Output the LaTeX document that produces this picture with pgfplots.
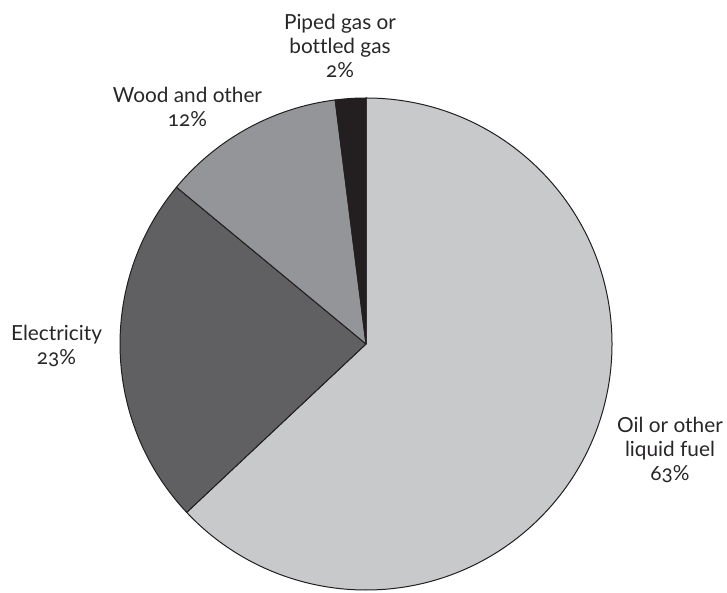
\documentclass[border=0pt]{standalone}
\usepackage{pgfplots}
\pgfplotsset{compat=1.18}
\usepackage{pgfplotstable}
\usepackage{fontspec}
\setmainfont{Lato}[Numbers=OldStyle, Ligatures=NoCommon]

\definecolor{oilgrey}{RGB}{200,201,203}
\definecolor{elecgrey}{RGB}{96,96,98}
\definecolor{woodgrey}{RGB}{147,149,152}
\definecolor{gasblack}{RGB}{35,31,32}
\definecolor{edge}{RGB}{35,31,32}
\definecolor{labelink}{RGB}{40,38,40}

% Share of households by main heating fuel (per cent), clockwise from the top
\pgfplotstableread{
fuel share
oil 63
electricity 23
wood 12
gas 2
}\fuelshares

\begin{document}
\begin{tikzpicture}[
  slice/.style={draw=edge, line width=0.5pt, line join=round},
  lbl/.style={align=center, inner sep=0pt, text=labelink,
    font=\fontsize{10.4}{12}\selectfont},
]
\pgfplotstablegetelem{0}{share}\of\fuelshares \let\shOil\pgfplotsretval
\pgfplotstablegetelem{1}{share}\of\fuelshares \let\shElec\pgfplotsretval
\pgfplotstablegetelem{2}{share}\of\fuelshares \let\shWood\pgfplotsretval
\pgfplotstablegetelem{3}{share}\of\fuelshares \let\shGas\pgfplotsretval
% slice boundaries in degrees, starting at 12 o'clock and going clockwise
\pgfmathsetmacro\aOil{90}
\pgfmathsetmacro\aElec{\aOil-3.6*\shOil}
\pgfmathsetmacro\aWood{\aElec-3.6*\shElec}
\pgfmathsetmacro\aGas{\aWood-3.6*\shWood}
\pgfmathsetmacro\aEnd{\aGas-3.6*\shGas}
\def\R{123pt}
\begin{axis}[
  anchor=origin, at={(0,0)},
  x=0.5pt, y=0.5pt,
  xmin=0, xmax=727, ymin=0, ymax=593,
  hide axis, clip=false,
]
\filldraw[slice, fill=oilgrey]  (axis cs:366,249) -- ++(\aOil:\R)  arc[start angle=\aOil,  end angle=\aElec, radius=\R] -- cycle;
\filldraw[slice, fill=elecgrey] (axis cs:366,249) -- ++(\aElec:\R) arc[start angle=\aElec, end angle=\aWood, radius=\R] -- cycle;
\filldraw[slice, fill=woodgrey] (axis cs:366,249) -- ++(\aWood:\R) arc[start angle=\aWood, end angle=\aGas,  radius=\R] -- cycle;
\filldraw[slice, fill=gasblack] (axis cs:366,249) -- ++(\aGas:\R)  arc[start angle=\aGas,  end angle=\aEnd,  radius=\R] -- cycle;

\node[lbl, anchor=north] at (axis cs:340,579) {Piped gas or\\bottled gas\\\shGas\%};
\node[lbl, anchor=north] at (axis cs:187.5,506) {Wood and other\\\shWood\%};
\node[lbl, anchor=north] at (axis cs:56.5,268) {Electricity\\\shElec\%};
\node[lbl, anchor=north] at (axis cs:670,176) {Oil or other\\liquid fuel\\\shOil\%};
\end{axis}
\pgfresetboundingbox
\path[use as bounding box] (0,0) rectangle (363.5pt,296.5pt);
\end{tikzpicture}
\end{document}
